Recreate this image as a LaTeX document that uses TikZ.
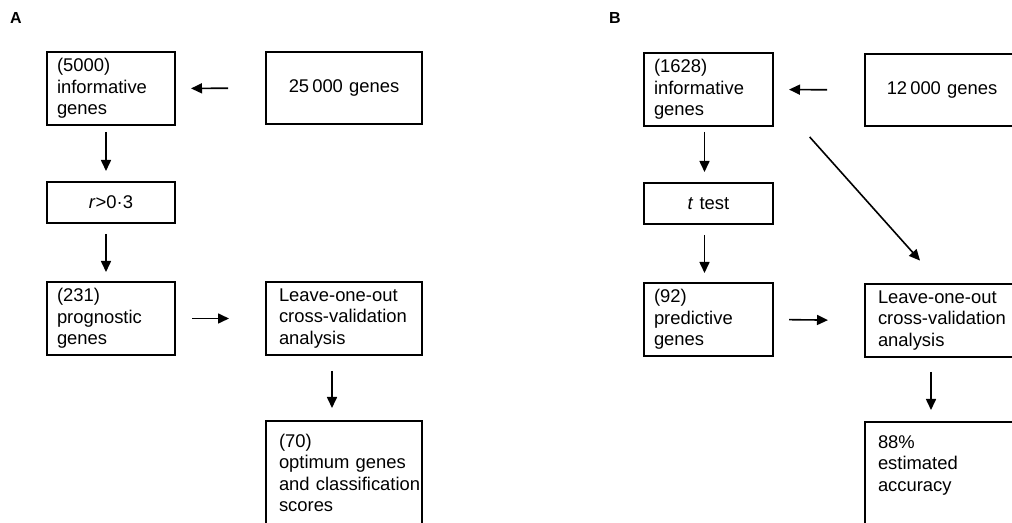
\documentclass[tikz,border=0pt]{standalone}
\usepackage{fontspec}
\setmainfont{Liberation Sans}
\usetikzlibrary{arrows.meta}
\hyphenpenalty=10000
\exhyphenpenalty=10000
\tikzset{
  stage/.style={draw, line width=1pt, anchor=north west, align=left, inner ysep=0pt,
    inner xsep=5pt, text width=#1, font=\fontsize{9.2}{10.8}\selectfont},
  flow/.style={line width=0.8pt, -{Triangle[length=5.5pt,width=5pt]}},
  panel/.style={font=\fontsize{8}{9}\selectfont\bfseries},
}
\begin{document}
\begin{tikzpicture}[x=0.5pt,y=-0.5pt]
\useasboundingbox (0,0) rectangle (1012,523);
% panel A
\node[panel] (labA) at (16,18) {A};
\node[stage=54pt, minimum height=36.5pt] (infoA) at (46,51) {(5000)\\informative\\genes};
\node[stage=65pt, inner xsep=6.5pt, align=center, minimum height=36pt] (allA) at (265,51) {25\,000 genes};
\node[stage=54pt, align=center, minimum height=20.5pt] (corrA) at (46,181) {\textit{r}>0·3};
\node[stage=54pt, minimum height=36.5pt] (progA) at (46,281) {(231)\\prognostic\\genes};
\node[stage=65pt, inner xsep=6.5pt, minimum height=36.5pt] (looA) at (265,281) {Leave-one-out\\cross-validation\\analysis};
\node[stage=65pt, inner xsep=6.5pt, minimum height=52pt] (optA) at (265,420) {(70)\\optimum genes\\and~classification\\scores};
\draw[flow, shorten <=18.5pt, shorten >=7.5pt] (allA.west) -- (infoA.east);
\draw[flow, shorten <=3pt, shorten >=5pt] ([xshift=-2.5pt]infoA.south) -- ([xshift=-2.5pt]corrA.north);
\draw[flow, shorten <=5pt, shorten >=4.5pt] ([xshift=-2.5pt]corrA.south) -- ([xshift=-2.5pt]progA.north);
\draw[flow, shorten <=8pt, shorten >=18pt] (progA.east) -- (looA.west);
\draw[flow, shorten <=7.5pt, shorten >=6pt] ([xshift=-6pt]looA.south) -- ([xshift=-6pt]optA.north);
% panel B
\node[panel] (labB) at (615,18) {B};
\node[stage=54.5pt, minimum height=36.5pt] (infoB) at (643,52) {(1628)\\informative\\genes};
\node[stage=64pt, inner xsep=6.5pt, align=center, minimum height=36pt] (allB) at (864,53) {12\,000 genes};
\node[stage=54.5pt, align=center, minimum height=20.5pt] (ttestB) at (643,182) {\textit{t} test};
\node[stage=54.5pt, minimum height=36.5pt] (predB) at (643,282) {(92)\\predictive\\genes};
\node[stage=64pt, inner xsep=6.5pt, minimum height=36.5pt] (looB) at (864,283) {Leave-one-out\\cross-validation\\analysis};
\node[stage=64pt, inner xsep=6.5pt, minimum height=52pt] (accB) at (864,421) {88\%\\estimated\\accuracy\\\mbox{}};
\coordinate (split) at (799,125);
\draw[flow, shorten <=18.5pt, shorten >=7.5pt] (allB.west) -- (infoB.east);
\draw[flow, shorten <=2.5pt, shorten >=5pt] ([xshift=-2pt]infoB.south) -- ([xshift=-2pt]ttestB.north);
\draw[flow, shorten <=5pt, shorten >=4.5pt] ([xshift=-2pt]ttestB.south) -- ([xshift=-2pt]predB.north);
\draw[flow, shorten <=7.5pt, shorten >=18pt] (predB.east) -- (looB.west);
\draw[flow, shorten <=7pt, shorten >=5.5pt] ([xshift=-5.5pt]looB.south) -- ([xshift=-5.5pt]accB.north);
\draw[flow, shorten <=8pt, shorten >=15pt] (split) -- ([xshift=-1pt]looB.north);
\end{tikzpicture}
\end{document}
